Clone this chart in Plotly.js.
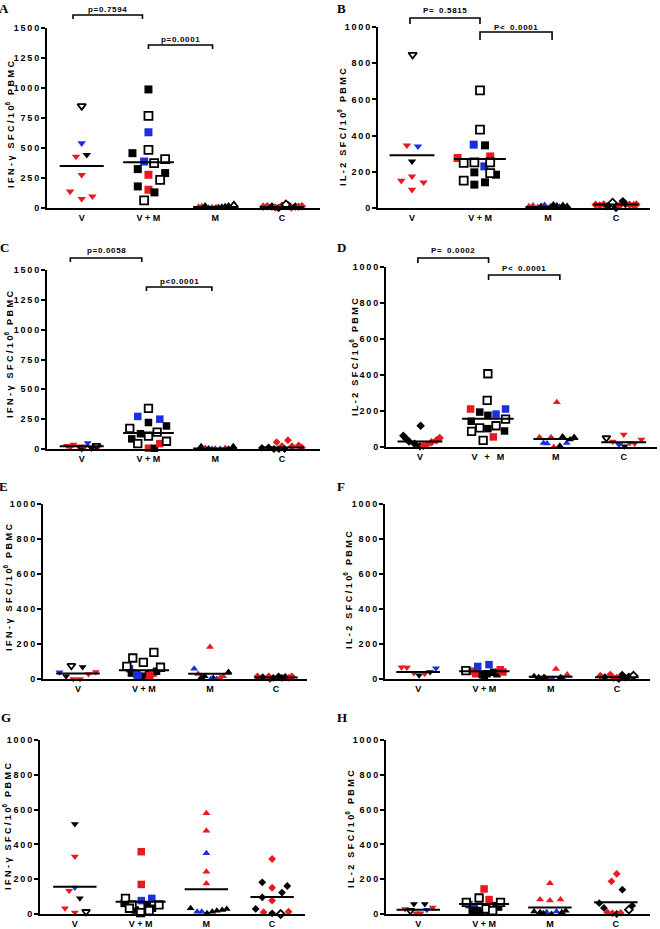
<!DOCTYPE html>
<html><head><meta charset="utf-8">
<script src="https://cdn.plot.ly/plotly-3.0.1.min.js"></script>
<style>html,body{margin:0;padding:0;background:#fff;}#chart{width:660px;height:929px;}</style>
</head><body><div id="chart"></div>
<script>
// ---------------- DATA ----------------
const categories = ['V', 'V+M', 'M', 'C'];
const ticksIFN15 = [0, 250, 500, 750, 1000, 1250, 1500];
const ticks1000 = [0, 200, 400, 600, 800, 1000];
// kinds: r = red, b = blue, k = black filled, o = open (black outline)

// Panel A  IFN-gamma
const A_values = [
  [850, 540, 429, 443, 277, 138, 77, 97],
  [988, 767, 631, 484, 457, 387, 374, 407, 324, 291, 277, 235, 180, 152, 130, 64],
  [8, 12, 18, 0, 4, 0, 5, 8, 12, 18, 22, 3],
  [10, 15, 12, 5, 0, 18, 28, 20, 5, 12, 10, 14]
];
const A_kinds = ['obrkrrrr', 'kobokbookkrokrko', 'rrkbrbkkkkor', 'rrkrkrokrkrr'];
const A_jitter = [
  [0, 0, -0.085, 0.075, 0, -0.175, 0, 0.16],
  [0, 0, 0, 0, -0.24, -0.065, 0.085, 0.25, -0.16, 0.25, 0, 0.175, -0.16, 0, 0.09, -0.065],
  [-0.25, -0.2, -0.15, -0.1, -0.05, 0, 0.05, 0.1, 0.15, 0.2, 0.28, 0.02],
  [-0.28, -0.22, -0.15, -0.1, -0.05, 0, 0.06, 0.1, 0.14, 0.2, 0.25, 0.3]
];
const A_means = [351, 382, 8, 8];
const A_pvalues = ['p=0.7594', 'p=0.0001'];

// Panel B  IL-2
const B_values = [
  [847, 346, 341, 258, 175, 151, 142, 101],
  [650, 433, 350, 346, 276, 285, 249, 252, 252, 230, 197, 193, 184, 151, 142, 129],
  [8, 12, 4, 10, 15, 0, 8, 18, 12, 5, 15, 10],
  [18, 14, 20, 10, 28, 0, 12, 38, 22, 18, 15, 20]
];
const B_kinds = ['orbkrrrr', 'oobkrrooobkokokk', 'rrrkbrbkkbkk', 'rrrkokrkkrrr'];
const B_jitter = [
  [0.01, -0.074, 0.088, 0, 0, -0.157, 0.17, 0],
  [0, 0, -0.093, 0.074, -0.33, 0.15, -0.24, -0.083, 0.15, 0.064, -0.083, 0.15, 0.235, -0.24, 0.074, -0.083],
  [-0.28, -0.22, -0.15, -0.1, -0.05, 0, 0.04, 0.08, 0.13, 0.17, 0.22, 0.28],
  [-0.3, -0.24, -0.18, -0.12, -0.05, 0, 0.05, 0.1, 0.14, 0.2, 0.26, 0.3]
];
const B_means = [291, 271, 6, 20];
const B_pvalues = ['P= 0.5815', 'P< 0.0001'];

// Panel C  IFN-gamma
const C_values = [
  [28, 37, 23, 0, 23, 51, 5, 28, 20, 15],
  [341, 273, 250, 222, 193, 173, 142, 128, 85, 108, 65, 45, 6, 6, 45],
  [23, 9, 5, 0, 3, 0, 9, 3, 23],
  [9, 14, 0, 57, 0, 23, 0, 74, 23, 31, 12]
];
const C_kinds = ['rrrkrbkorr', 'obbkkookkooorkr', 'krkbrbrkk', 'kkkrkrkrrrr'];
const C_jitter = [
  [-0.22, -0.125, -0.05, 0, 0.05, 0.09, 0.15, 0.22, 0.25, -0.17],
  [0, -0.16, 0.17, 0, 0.27, -0.28, 0.13, -0.12, -0.25, 0, 0.27, -0.16, 0, 0.09, 0.17],
  [-0.21, -0.15, -0.1, -0.05, 0, 0.075, 0.15, 0.2, 0.27],
  [-0.3, -0.2, -0.12, -0.08, -0.045, 0, 0.04, 0.09, 0.15, 0.25, 0.3]
];
const C_means = [23, 135, 5, 12];
const C_pvalues = ['p=0.0058', 'p<0.0001'];

// Panel D  IL-2
const D_values = [
  [118, 63, 44, 31, 18, 4, 13, 26, 37, 50, 6],
  [407, 259, 211, 194, 211, 183, 176, 155, 143, 118, 106, 102, 87, 89, 56, 37],
  [54, 54, 248, 59, 56, 22, 19, 0, 7, 22, 41],
  [50, 69, 31, 13, 4, 19, 41, 22]
];
const D_kinds = ['kkkkkkrrrrr', 'oorkbbkokookokro', 'rrrkkbbrkbk', 'orrbkrrr'];
const D_jitter = [
  [0.01, -0.245, -0.2, -0.16, -0.08, 0, 0.1, 0.17, 0.245, 0.29, 0.05],
  [0, -0.01, -0.255, -0.12, 0.26, 0.12, 0, 0.26, -0.245, 0.12, -0.12, 0, -0.24, 0.245, 0.08, -0.07],
  [-0.24, -0.07, 0.015, 0.1, 0.27, -0.18, -0.13, -0.03, 0.06, 0.16, 0.21],
  [-0.255, 0, -0.16, -0.07, 0.015, 0.16, 0.26, 0.09]
];
const D_means = [31, 157, 44, 26];
const D_pvalues = ['P= 0.0002', 'P< 0.0001'];

// Panel E  IFN-gamma
const E_values = [
  [38, 15, 76, 0, 0, 69, 29, 40],
  [152, 120, 95, 72, 67, 59, 34, 25, 15, 30, 34, 44, 15, 20, 20],
  [183, 59, 29, 15, 6, 0, 0, 6, 15, 40, 10],
  [15, 10, 15, 0, 6, 15, 6, 12, 6, 15]
];
const E_kinds = ['bkorrkrr', 'ooooobkbrkrkkrb', 'rbrkkbbrrkk', 'rkrrkkkkrr'];
const E_jitter = [
  [-0.28, -0.18, -0.1, -0.07, 0.03, 0.07, 0.16, 0.27],
  [0.15, -0.17, -0.01, -0.26, 0.25, -0.22, -0.19, -0.11, -0.01, 0.07, 0.14, 0.19, -0.04, 0.09, -0.09],
  [0, -0.24, -0.18, -0.08, 0.05, 0.015, 0.1, 0.15, 0.2, 0.28, -0.13],
  [-0.28, -0.2, -0.11, -0.09, -0.04, 0.04, 0.09, 0.14, 0.19, 0.24]
];
const E_means = [32, 50, 30, 8];

// Panel F  IL-2
const F_values = [
  [67, 65, 34, 22, 30, 40, 61],
  [48, 45, 30, 72, 25, 10, 82, 30, 38, 30, 53, 40],
  [15, 10, 12, 0, 57, 0, 6, 25, 6, 10],
  [19, 10, 25, 5, 0, 25, 8, 15, 19, 8]
];
const F_kinds = ['rrrkrkb', 'orrbkkbkkkrr', 'kkkrrbbrkk', 'rkrrkkrkok'];
const F_jitter = [
  [-0.25, -0.17, -0.065, 0.015, 0.1, 0.18, 0.27],
  [-0.28, -0.18, -0.13, -0.1, -0.03, 0, 0.07, 0.04, 0.14, 0.19, 0.24, 0.28],
  [-0.25, -0.18, -0.1, -0.03, 0.08, 0.03, 0.18, 0.25, -0.08, 0.15],
  [-0.25, -0.18, -0.1, -0.05, 0.03, 0.08, 0, 0.18, 0.25, 0.12]
];
const F_means = [40, 44, 13, 10];

// Panel G  IFN-gamma
const G_values = [
  [517, 330, 153, 134, 90, 33, 8, 13],
  [358, 170, 90, 77, 90, 61, 52, 52, 52, 8, 19, 23, 33, 13, 33],
  [579, 479, 349, 243, 176, 33, 13, 13, 4, 13, 19, 23, 29],
  [316, 182, 151, 161, 123, 96, 77, 29, 10, 4, 0, 13]
];
const G_kinds = ['krbrkrro', 'rrbbokookookkko', 'rrbrrkbbkkkkk', 'rkrkkkrkrkor'];
const G_jitter = [
  [0, 0, 0, -0.086, 0.076, -0.15, 0, 0.17],
  [0.01, 0.01, 0.17, 0.01, -0.23, -0.25, -0.13, 0.28, 0.1, 0, 0.13, -0.08, 0.18, 0.06, -0.17],
  [0, 0, 0, 0, 0, -0.24, -0.14, -0.07, 0.01, 0.09, 0.16, 0.24, 0.31],
  [0, -0.15, 0, 0.23, 0.15, -0.15, 0, -0.25, -0.13, 0, 0.13, 0.25]
];
const G_means = [157, 71, 142, 98];

// Panel H  IL-2
const H_values = [
  [58, 58, 38, 29, 19, 4, 4, 25],
  [144, 92, 83, 67, 67, 54, 40, 48, 20, 29, 20, 10, 40, 19, 20],
  [177, 83, 77, 83, 15, 10, 10, 0, 15, 10, 19, 4],
  [231, 188, 140, 62, 35, 10, 4, 0, 6, 25, 48]
];
const H_kinds = ['kkrrorrb', 'roroobbkkokkkok', 'rrrrkkbkbkkk', 'rrkkkrrkrok'];
const H_jitter = [
  [-0.066, 0.1, 0.22, -0.2, -0.12, -0.03, 0.035, 0.13],
  [0, -0.076, 0.076, -0.27, 0.25, -0.23, -0.15, 0.18, -0.1, 0.03, 0.08, -0.05, 0.22, 0.13, -0.18],
  [0, -0.15, 0, 0.16, -0.24, -0.15, -0.05, 0.025, 0.1, 0.18, 0.24, -0.1],
  [0.015, -0.065, 0.1, -0.25, -0.18, -0.13, -0.05, 0.015, 0.075, 0.2, 0.25]
];
const H_means = [25, 58, 38, 67];

// ---------------- STYLE / LAYOUT ----------------
const FILL = { r: '#e8191f', b: '#1c2fdc', k: '#000000', o: '#ffffff' };
const SYM_STD = ['triangle-down', 'square', 'triangle-up', 'diamond'];
const SYM_D = ['diamond', 'square', 'triangle-up', 'triangle-down'];
const HALF = [0.33, 0.38, 0.33, 0.33];
const W = 660, H = 929;
const FONT = 'Liberation Sans, Arial, sans-serif';

function spaced(s, sep) {
  return Array.from(s).map(c => c === ' ' ? '\u2002' : c).join(sep);
}
function ytitle(prefix) {
  const sp = s => spaced(s, ' ');
  const gap = ' \u2002';
  return sp(prefix) + gap + sp('SFC/10') + '<sup>6</sup>' + gap + sp('PBMC');
}

const panels = [
  { L: 'A', vals: A_values, kinds: A_kinds, dx: A_jitter, means: A_means, pv: A_pvalues, ttl: 'IFN-γ',
    xpx: [47, 320], ypx: [28, 208], xr: [-0.52, 3.57], ticks: ticksIFN15, sym: SYM_STD, msz: [7.5, 8, 7.5, 6.5],
    letter: [4, 8], tpos: [10, 125], vmSep: ' ',
    br: [{ x0: -0.13, x1: 0.91, top: 15, leg: 19, ty: 9 }, { x0: 1.0, x1: 1.96, top: 45, leg: 49, ty: 39 }] },
  { L: 'B', vals: B_values, kinds: B_kinds, dx: B_jitter, means: B_means, pv: B_pvalues, ttl: 'IL-2',
    xpx: [378, 650], ypx: [27, 208], xr: [-0.5, 3.5], ticks: ticks1000, sym: SYM_STD, msz: [7.5, 8, 7.5, 6.5],
    letter: [341, 8], tpos: [342, 127], vmSep: ' ',
    br: [{ x0: -0.03, x1: 1.0, top: 18, leg: 24, ty: 11 }, { x0: 1.0, x1: 2.06, top: 32, leg: 40, ty: 27 }] },
  { L: 'C', vals: C_values, kinds: C_kinds, dx: C_jitter, means: C_means, pv: C_pvalues, ttl: 'IFN-γ',
    xpx: [47, 320], ypx: [270, 449], xr: [-0.52, 3.57], ticks: ticksIFN15, sym: SYM_STD, msz: [7, 7.5, 7, 6],
    letter: [4, 248], tpos: [9, 355], vmSep: ' ',
    br: [{ x0: -0.17, x1: 0.9, top: 258, leg: 262, ty: 251 }, { x0: 0.97, x1: 1.95, top: 287, leg: 291, ty: 281 }] },
  { L: 'D', vals: D_values, kinds: D_kinds, dx: D_jitter, means: D_means, pv: D_pvalues, ttl: 'IL-2',
    xpx: [386, 657], ypx: [267, 447], xr: [-0.5, 3.49], ticks: ticks1000, sym: SYM_D, msz: [6.5, 7.5, 7, 7],
    letter: [341, 248], tpos: [354, 357], vmSep: ' \u2002',
    br: [{ x0: -0.03, x1: 1.01, top: 258, leg: 263, ty: 251 }, { x0: 1.01, x1: 2.06, top: 275, leg: 280, ty: 268 }] },
  { L: 'E', vals: E_values, kinds: E_kinds, dx: E_jitter, means: E_means, pv: [], ttl: 'IFN-γ',
    xpx: [43, 307], ypx: [504, 679], xr: [-0.53, 3.47], ticks: ticks1000, sym: SYM_STD, msz: [7, 7.5, 7, 6],
    letter: [3, 486], tpos: [8, 588], vmSep: ' ', br: [] },
  { L: 'F', vals: F_values, kinds: F_kinds, dx: F_jitter, means: F_means, pv: [], ttl: 'IL-2',
    xpx: [385, 650], ypx: [504, 679], xr: [-0.5, 3.5], ticks: ticks1000, sym: SYM_STD, msz: [7, 7.5, 7, 6],
    letter: [341, 486], tpos: [348, 590], vmSep: ' ', br: [] },
  { L: 'G', vals: G_values, kinds: G_kinds, dx: G_jitter, means: G_means, pv: [], ttl: 'IFN-γ',
    xpx: [40, 305], ypx: [740, 914], xr: [-0.53, 3.5], ticks: ticks1000, sym: SYM_STD, msz: [7, 7.5, 7, 6],
    letter: [6, 717], tpos: [7, 827], vmSep: ' ', br: [] },
  { L: 'H', vals: H_values, kinds: H_kinds, dx: H_jitter, means: H_means, pv: [], ttl: 'IL-2',
    xpx: [386, 650], ypx: [740, 914], xr: [-0.49, 3.52], ticks: ticks1000, sym: SYM_STD, msz: [7, 7.5, 7, 6],
    letter: [342, 717], tpos: [350, 829], vmSep: ' ', br: [] }
];

const traces = [];
const layout = {
  width: W, height: H, margin: { l: 0, r: 0, t: 0, b: 0 },
  paper_bgcolor: '#fff', plot_bgcolor: 'rgba(0,0,0,0)', showlegend: false,
  font: { family: FONT, color: '#000', size: 9 }, shapes: [], annotations: []
};
const px2x = v => v / W;
const px2y = v => 1 - v / H;

panels.forEach((p, idx) => {
  const suf = idx === 0 ? '' : String(idx + 1);
  const xa = 'x' + suf, ya = 'y' + suf;
  // markers
  p.vals.forEach((vals, g) => {
    const kinds = Array.from(p.kinds[g]);
    const order = vals.map((v, i) => i).sort((a, b) => (kinds[a] === 'o') - (kinds[b] === 'o') || a - b);
    traces.push({
      type: 'scatter', mode: 'markers', xaxis: xa, yaxis: ya, cliponaxis: false, hoverinfo: 'skip',
      x: order.map(i => g + p.dx[g][i]),
      y: order.map(i => vals[i]),
      marker: {
        symbol: p.sym[g], size: p.msz[g],
        color: order.map(i => FILL[kinds[i]]),
        line: { color: '#000', width: order.map(i => kinds[i] === 'o' ? 1.8 : 0) }
      }
    });
  });
  // mean lines
  const mx = [], my = [];
  p.means.forEach((m, g) => { mx.push(g - HALF[g], g + HALF[g], null); my.push(m, m, null); });
  traces.push({ type: 'scatter', mode: 'lines', xaxis: xa, yaxis: ya, cliponaxis: false, hoverinfo: 'skip',
    x: mx, y: my, line: { color: '#000', width: 2 } });

  const tickfont = { family: FONT, size: 9, color: '#000', weight: 'bold' };
  layout['xaxis' + suf] = {
    domain: [px2x(p.xpx[0]), px2x(p.xpx[1])], range: p.xr, anchor: ya,
    tickvals: categories.map((c, i) => i),
    ticktext: categories.map(c => c.split('+').join(p.vmSep + '+' + p.vmSep)),
    showline: true, linewidth: 2, linecolor: '#000', ticks: '', showgrid: false, zeroline: false,
    tickfont: tickfont, fixedrange: true
  };
  layout['yaxis' + suf] = {
    domain: [px2y(p.ypx[1]), px2y(p.ypx[0])], range: [0, p.ticks[p.ticks.length - 1]], anchor: xa,
    tickvals: p.ticks, ticktext: p.ticks.map(v => spaced(String(v), '\u2009')),
    showline: true, linewidth: 2, linecolor: '#000', ticks: 'outside', ticklen: 4, tickwidth: 2, tickcolor: '#000',
    showgrid: false, zeroline: false, tickfont: tickfont, fixedrange: true
  };
  // panel letter
  layout.annotations.push({ xref: 'paper', yref: 'paper', x: px2x(p.letter[0]), y: px2y(p.letter[1]),
    xanchor: 'center', yanchor: 'middle', showarrow: false, text: p.L,
    font: { family: 'Liberation Serif, Times New Roman, serif', size: 13, color: '#000', weight: 'bold' } });
  // y axis title
  layout.annotations.push({ xref: 'paper', yref: 'paper', x: px2x(p.tpos[0]), y: px2y(p.tpos[1]),
    xanchor: 'center', yanchor: 'middle', showarrow: false, textangle: -90, text: ytitle(p.ttl),
    font: { family: FONT, size: 9, color: '#000', weight: 'bold' } });
  // significance brackets
  p.br.forEach((b, k) => {
    layout.shapes.push({ type: 'path', xref: xa, yref: 'paper',
      path: `M ${b.x0},${px2y(b.leg)} L ${b.x0},${px2y(b.top)} L ${b.x1},${px2y(b.top)} L ${b.x1},${px2y(b.leg)}`,
      line: { color: '#000', width: 1.6 } });
    layout.annotations.push({ xref: xa, yref: 'paper', x: (b.x0 + b.x1) / 2, y: px2y(b.ty),
      xanchor: 'center', yanchor: 'middle', showarrow: false,
      text: spaced(p.pv[k], '\u200a'), font: { family: FONT, size: 8, color: '#000', weight: 'bold' } });
  });
});

Plotly.newPlot('chart', traces, layout, { staticPlot: true, displayModeBar: false });
</script>
</body></html>
